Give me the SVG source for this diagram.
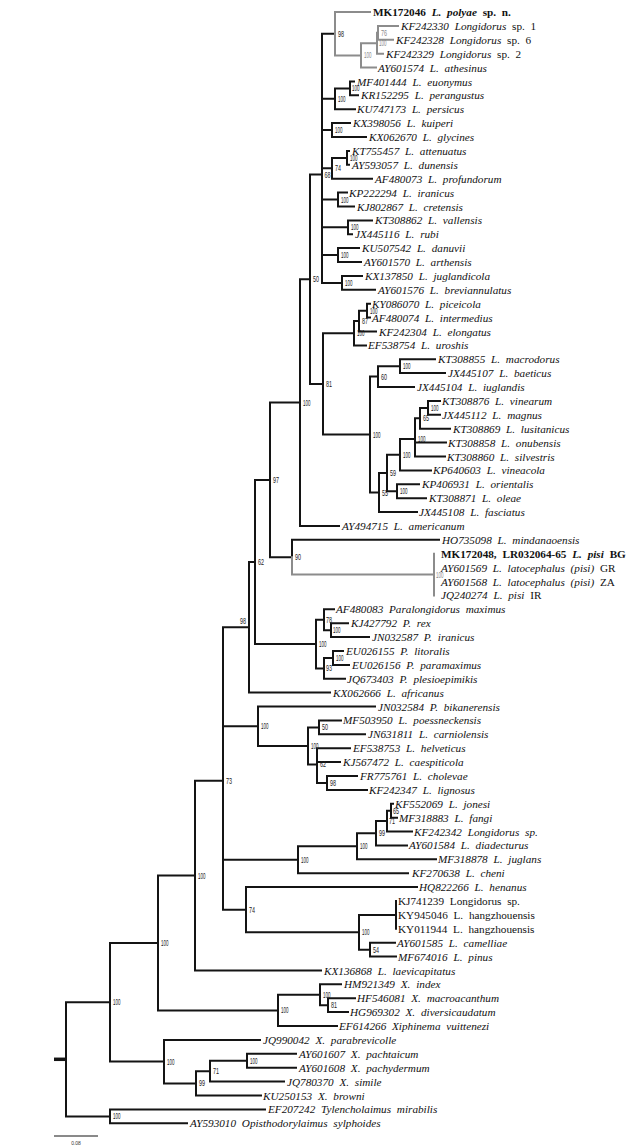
<svg xmlns="http://www.w3.org/2000/svg" width="638" height="1147" viewBox="0 0 638 1147">
<style>
.lf{font-family:"Liberation Serif",serif;font-size:11.2px;font-style:italic;word-spacing:3px;fill:#111}
.r{font-style:normal}
.b{font-weight:bold}
.bs{font-family:"Liberation Sans",sans-serif;font-size:8.5px;fill:#222}
.g{fill:#8a8a8a}
.ln{fill:none;stroke:#141414;stroke-width:2;stroke-linecap:square}
.lg{fill:none;stroke:#8c8c8c;stroke-width:2;stroke-linecap:square}
</style>
<rect width="638" height="1147" fill="#fff"/>
<g id="connectors">
<path class="ln" d="M323,33.7H335 M322,33.7V282.9
M322,98.8H335 M335,88.4V109.2 M335,88.4H350 M350,81.5V95.3 M350,81.5H354 M350,95.3H358 M335,109.2H355
M322,130H332 M332,123.1V137 M332,123.1H350 M332,137H366
M322,168.3H332 M332,157.9V178.7 M332,157.9H347 M347,150.9V164.8 M347,150.9H349 M347,164.8H349 M332,178.7H372
M322,199.6H338 M338,192.6V206.5 M338,192.6H347 M338,206.5H354
M322,227.3H348 M348,220.4V234.2 M348,220.4H372 M348,234.2H352
M322,255H338 M338,248.1V262 M338,248.1H359 M338,262H361
M322,282.9H342 M342,275.9V289.8 M342,275.9H362 M342,289.8H375
M310,174.5H322 M310,174.5V383.9 M300,279.2H310 M310,383.9H323
M323,333.3V434.5 M323,333.3H354 M323,434.5H370
M354,321.1V345.4 M354,321.1H359 M354,345.4H366
M359,310.7V331.5 M359,310.7H367 M359,331.5H376
M367,303.7V317.6 M367,303.7H370 M367,317.6H370
M370,376.6V492.5 M370,376.6H378 M370,492.5H379
M378,366.2V387 M378,366.2H400 M378,387H414
M400,359.3V373.1 M400,359.3H435 M400,373.1H445
M379,473V512.1 M379,473H387 M379,512.1H417
M387,454.8V491.2 M387,454.8H400 M387,491.2H397
M400,439.1V470.4 M400,439.1H415 M400,470.4H431
M415,418.3V456.5 M415,418.3H420 M415,442.6H446 M415,456.5H445
M420,407.9V428.7 M420,407.9H428 M420,428.7H450
M428,400.9V414.8 M428,400.9H440 M428,414.8H440
M397,484.3V498.2 M397,484.3H419 M397,498.2H426
M300,279.2V525.9 M300,525.9H339 M270,402.6H300
M270,402.6V557.2 M255,479.9H270 M270,557.2H292
M292,539.8V557.2 M292,539.8H439
M255,479.9V644 M249,562H255 M255,644H316
M316,619.7V668.4 M316,619.7H324 M316,668.4H324
M324,609.3V630.2 M324,609.3H334 M324,630.2H331
M331,623.2V637.1 M331,623.2H348 M331,637.1H369
M324,658V678.8 M324,658H333 M324,678.8H345
M333,651V664.9 M333,651H343 M333,664.9H349
M249,562V692.6 M249,692.6H330 M223,627.3H249
M223,627.3V909.7 M195,780.7H223 M223,726.2H258 M223,859.8H298 M223,909.7H246
M258,706.5V745.9 M258,706.5H375 M258,745.9H308
M308,727.4V764.4 M308,727.4H319 M308,764.4H317
M319,720.4V734.3 M319,720.4H341 M319,734.3H365
M317,748.2V783 M317,748.2H350 M317,762.1H340 M317,783H327
M327,776V789.9 M327,776H357 M327,789.9H367
M298,846.3V873.2 M298,846.3H357 M298,873.2H408
M357,833.3V859.3 M357,833.3H376 M357,859.3H436
M376,821.1V845.4 M376,821.1H387 M376,845.4H407
M387,810.8V831.5 M387,810.8H391 M387,831.5H412
M391,803.8V817.7 M391,803.8H393 M391,817.7H397
M246,887.1V932.3 M246,887.1H417 M246,932.3H359
M359,914.9V949.7 M359,914.9H396 M359,949.7H370
M396,901V928.8
M370,942.7V956.6 M370,942.7H395 M370,956.6H396
M195,780.7V970.5 M195,970.5H321 M158,875.6H195
M278,994.7V1026 M278,994.7H320 M278,1026H337
M320,984.3V1005.2 M320,984.3H341 M320,1005.2H328
M328,998.2V1012.1 M328,998.2H355 M328,1012.1H348
M158,875.6V1010.4 M158,1010.4H278 M110,943H158
M110,943V1061.6 M110,1061.6H164 M66,1002.3H110
M164,1039.9V1083.4 M164,1039.9H260 M164,1083.4H196
M196,1071.2V1095.5 M196,1071.2H210 M196,1095.5H261
M210,1060.8V1081.6 M210,1060.8H247 M210,1081.6H284
M247,1053.8V1067.7 M247,1053.8H296 M247,1067.7H296
M110,1109.4V1123.3 M110,1109.4H265 M110,1123.3H187
M66,1002.3V1116.4 M66,1116.4H110"/>
<path class="lg" d="M335,12V55.4 M335,12H370 M335,55.4H361 M361,43.3V67.6 M361,67.6H376 M361,43.3H377 M377,32.8V53.7 M377,53.7H383 M377,32.8H378 M378,25.9V39.8 M378,25.9H398 M378,39.8H393
M292,557.2V574.5 M292,574.5H434 M434,553.7V595.4"/>
<path d="M54,1059.3H66" stroke="#141414" stroke-width="3.5" fill="none"/>
<path d="M54,1136H98" stroke="#141414" stroke-width="1" fill="none"/>
<text x="76" y="1145" font-family="Liberation Sans, sans-serif" font-size="5" text-anchor="middle" fill="#333">0.08</text>
</g>
<g id="leaves">
<g id="l1"><text class="lf r b" x="373" y="16">MK172046 <tspan font-style="italic">L. polyae</tspan>  sp. n.</text></g>
<g id="l2"><text class="lf" x="401" y="29.9">KF242330 Longidorus<tspan class="r"> sp. 1</tspan></text></g>
<g id="l3"><text class="lf" x="396" y="43.8">KF242328 Longidorus<tspan class="r"> sp. 6</tspan></text></g>
<g id="l4"><text class="lf" x="386" y="57.7">KF242329 Longidorus<tspan class="r"> sp. 2</tspan></text></g>
<g id="l5"><text class="lf" x="378" y="71.6">AY601574 L. athesinus</text></g>
<g id="l6"><text class="lf" x="357" y="85.5">MF401444 L. euonymus</text></g>
<g id="l7"><text class="lf" x="361" y="99.3">KR152295 L. perangustus</text></g>
<g id="l8"><text class="lf" x="357" y="113.2">KU747173 L. persicus</text></g>
<g id="l9"><text class="lf" x="353" y="127.1">KX398056 L. kuiperi</text></g>
<g id="l10"><text class="lf" x="369" y="141">KX062670 L. glycines</text></g>
<g id="l11"><text class="lf" x="352" y="154.9">KT755457 L. attenuatus</text></g>
<g id="l12"><text class="lf" x="352" y="168.8">AY593057 L. dunensis</text></g>
<g id="l13"><text class="lf" x="375" y="182.7">AF480073 L. profundorum</text></g>
<g id="l14"><text class="lf" x="349" y="196.6">KP222294 L. iranicus</text></g>
<g id="l15"><text class="lf" x="357" y="210.5">KJ802867 L. cretensis</text></g>
<g id="l16"><text class="lf" x="375" y="224.4">KT308862 L. vallensis</text></g>
<g id="l17"><text class="lf" x="355" y="238.2">JX445116 L. rubi</text></g>
<g id="l18"><text class="lf" x="362" y="252.1">KU507542 L. danuvii</text></g>
<g id="l19"><text class="lf" x="364" y="266">AY601570 L. arthensis</text></g>
<g id="l20"><text class="lf" x="365" y="279.9">KX137850 L. juglandicola</text></g>
<g id="l21"><text class="lf" x="378" y="293.8">AY601576 L. breviannulatus</text></g>
<g id="l22"><text class="lf" x="372" y="307.7">KY086070 L. piceicola</text></g>
<g id="l23"><text class="lf" x="372" y="321.6">AF480074 L. intermedius</text></g>
<g id="l24"><text class="lf" x="379" y="335.5">KF242304 L. elongatus</text></g>
<g id="l25"><text class="lf" x="368" y="349.4">EF538754 L. uroshis</text></g>
<g id="l26"><text class="lf" x="438" y="363.3">KT308855 L. macrodorus</text></g>
<g id="l27"><text class="lf" x="448" y="377.1">JX445107 L. baeticus</text></g>
<g id="l28"><text class="lf" x="417" y="391">JX445104 L. iuglandis</text></g>
<g id="l29"><text class="lf" x="442" y="404.9">KT308876 L. vinearum</text></g>
<g id="l30"><text class="lf" x="442" y="418.8">JX445112 L. magnus</text></g>
<g id="l31"><text class="lf" x="453" y="432.7">KT308869 L. lusitanicus</text></g>
<g id="l32"><text class="lf" x="448" y="446.6">KT308858 L. onubensis</text></g>
<g id="l33"><text class="lf" x="447" y="460.5">KT308860 L. silvestris</text></g>
<g id="l34"><text class="lf" x="433" y="474.4">KP640603 L. vineacola</text></g>
<g id="l35"><text class="lf" x="422" y="488.3">KP406931 L. orientalis</text></g>
<g id="l36"><text class="lf" x="429" y="502.2">KT308871 L. oleae</text></g>
<g id="l37"><text class="lf" x="419" y="516.1">JX445108 L. fasciatus</text></g>
<g id="l38"><text class="lf" x="342" y="529.9">AY494715 L. americanum</text></g>
<g id="l39"><text class="lf" x="442" y="543.8">HO735098 L. mindanaoensis</text></g>
<g id="l40"><text class="lf r b" x="441" y="557.7">MK172048, LR032064-65 <tspan font-style="italic">L. pisi</tspan> BG</text></g>
<g id="l41"><text class="lf" x="441" y="571.6">AY601569 L. latocephalus (pisi)<tspan class="r"> GR</tspan></text></g>
<g id="l42"><text class="lf" x="441" y="585.5">AY601568 L. latocephalus (pisi)<tspan class="r"> ZA</tspan></text></g>
<g id="l43"><text class="lf" x="441" y="599.4">JQ240274 L. pisi<tspan class="r"> IR</tspan></text></g>
<g id="l44"><text class="lf" x="336" y="613.3">AF480083 Paralongidorus maximus</text></g>
<g id="l45"><text class="lf" x="351" y="627.2">KJ427792 P. rex</text></g>
<g id="l46"><text class="lf" x="372" y="641.1">JN032587 P. iranicus</text></g>
<g id="l47"><text class="lf" x="346" y="655">EU026155 P. litoralis</text></g>
<g id="l48"><text class="lf" x="352" y="668.9">EU026156 P. paramaximus</text></g>
<g id="l49"><text class="lf" x="347" y="682.8">JQ673403 P. plesioepimikis</text></g>
<g id="l50"><text class="lf" x="333" y="696.6">KX062666 L. africanus</text></g>
<g id="l51"><text class="lf" x="378" y="710.5">JN032584 P. bikanerensis</text></g>
<g id="l52"><text class="lf" x="343" y="724.4">MF503950 L. poessneckensis</text></g>
<g id="l53"><text class="lf" x="368" y="738.3">JN631811 L. carniolensis</text></g>
<g id="l54"><text class="lf" x="353" y="752.2">EF538753 L. helveticus</text></g>
<g id="l55"><text class="lf" x="343" y="766.1">KJ567472 L. caespiticola</text></g>
<g id="l56"><text class="lf" x="360" y="780">FR775761 L. cholevae</text></g>
<g id="l57"><text class="lf" x="369" y="793.9">KF242347 L. lignosus</text></g>
<g id="l58"><text class="lf" x="395" y="807.8">KF552069 L. jonesi</text></g>
<g id="l59"><text class="lf" x="399" y="821.7">MF318883 L. fangi</text></g>
<g id="l60"><text class="lf" x="414" y="835.5">KF242342 Longidorus sp.</text></g>
<g id="l61"><text class="lf" x="409" y="849.4">AY601584 L. diadecturus</text></g>
<g id="l62"><text class="lf" x="438" y="863.3">MF318878 L. juglans</text></g>
<g id="l63"><text class="lf" x="412" y="877.2">KF270638 L. cheni</text></g>
<g id="l64"><text class="lf" x="419" y="891.1">HQ822266 L. henanus</text></g>
<g id="l65"><text class="lf r" x="398" y="905">KJ741239 Longidorus sp.</text></g>
<g id="l66"><text class="lf r" x="398" y="918.9">KY945046 L. hangzhouensis</text></g>
<g id="l67"><text class="lf r" x="398" y="932.8">KY011944 L. hangzhouensis</text></g>
<g id="l68"><text class="lf" x="397" y="946.7">AY601585 L. camelliae</text></g>
<g id="l69"><text class="lf" x="398" y="960.6">MF674016 L. pinus</text></g>
<g id="l70"><text class="lf" x="324" y="974.5">KX136868 L. laevicapitatus</text></g>
<g id="l71"><text class="lf" x="344" y="988.3">HM921349 X. index</text></g>
<g id="l72"><text class="lf" x="357" y="1002.2">HF546081 X. macroacanthum</text></g>
<g id="l73"><text class="lf" x="350" y="1016.1">HG969302 X. diversicaudatum</text></g>
<g id="l74"><text class="lf" x="339" y="1030">EF614266 Xiphinema vuittenezi</text></g>
<g id="l75"><text class="lf" x="263" y="1043.9">JQ990042 X. parabrevicolle</text></g>
<g id="l76"><text class="lf" x="299" y="1057.8">AY601607 X. pachtaicum</text></g>
<g id="l77"><text class="lf" x="299" y="1071.7">AY601608 X. pachydermum</text></g>
<g id="l78"><text class="lf" x="287" y="1085.6">JQ780370 X. simile</text></g>
<g id="l79"><text class="lf" x="263" y="1099.5">KU250153 X. browni</text></g>
<g id="l80"><text class="lf" x="268" y="1113.4">EF207242 Tylencholaimus mirabilis</text></g>
<g id="l81"><text class="lf" x="190" y="1127.3">AY593010 Opisthodorylaimus sylphoides</text></g>
</g>
<g id="internal-nodes">
<g id="n1"><text class="bs" x="338" y="36.7" textLength="6" lengthAdjust="spacingAndGlyphs">98</text></g>
<g id="n2"><text class="bs g" x="364" y="58.4" textLength="7.5" lengthAdjust="spacingAndGlyphs">100</text></g>
<g id="n3"><text class="bs g" x="379" y="46.3" textLength="7.5" lengthAdjust="spacingAndGlyphs">100</text></g>
<g id="n4"><text class="bs g" x="381" y="35.8" textLength="6" lengthAdjust="spacingAndGlyphs">76</text></g>
<g id="n5"><text class="bs" x="338" y="101.8" textLength="7.5" lengthAdjust="spacingAndGlyphs">100</text></g>
<g id="n6"><text class="bs" x="352" y="91.4" textLength="7.5" lengthAdjust="spacingAndGlyphs">100</text></g>
<g id="n7"><text class="bs" x="335" y="133" textLength="7.5" lengthAdjust="spacingAndGlyphs">100</text></g>
<g id="n8"><text class="bs" x="350" y="160.9" textLength="7.5" lengthAdjust="spacingAndGlyphs">100</text></g>
<g id="n9"><text class="bs" x="335" y="171.3" textLength="6" lengthAdjust="spacingAndGlyphs">74</text></g>
<g id="n10"><text class="bs" x="324.5" y="177.5" textLength="6" lengthAdjust="spacingAndGlyphs">68</text></g>
<g id="n11"><text class="bs" x="341" y="202.6" textLength="7.5" lengthAdjust="spacingAndGlyphs">100</text></g>
<g id="n12"><text class="bs" x="351" y="230.3" textLength="7.5" lengthAdjust="spacingAndGlyphs">100</text></g>
<g id="n13"><text class="bs" x="341" y="258" textLength="7.5" lengthAdjust="spacingAndGlyphs">100</text></g>
<g id="n14"><text class="bs" x="345" y="285.9" textLength="7.5" lengthAdjust="spacingAndGlyphs">100</text></g>
<g id="n15"><text class="bs" x="313" y="282.2" textLength="6" lengthAdjust="spacingAndGlyphs">50</text></g>
<g id="n16"><text class="bs" x="370" y="313.7" textLength="7.5" lengthAdjust="spacingAndGlyphs">100</text></g>
<g id="n17"><text class="bs" x="362" y="324.1" textLength="6" lengthAdjust="spacingAndGlyphs">87</text></g>
<g id="n18"><text class="bs" x="357" y="336.3" textLength="7.5" lengthAdjust="spacingAndGlyphs">100</text></g>
<g id="n19"><text class="bs" x="326" y="386.9" textLength="6" lengthAdjust="spacingAndGlyphs">81</text></g>
<g id="n20"><text class="bs" x="403" y="369.2" textLength="7.5" lengthAdjust="spacingAndGlyphs">100</text></g>
<g id="n21"><text class="bs" x="381" y="379.6" textLength="6" lengthAdjust="spacingAndGlyphs">60</text></g>
<g id="n22"><text class="bs" x="373" y="437.5" textLength="7.5" lengthAdjust="spacingAndGlyphs">100</text></g>
<g id="n23"><text class="bs" x="431" y="410.9" textLength="7.5" lengthAdjust="spacingAndGlyphs">100</text></g>
<g id="n24"><text class="bs" x="423" y="421.3" textLength="6" lengthAdjust="spacingAndGlyphs">65</text></g>
<g id="n25"><text class="bs" x="418" y="442.1" textLength="7.5" lengthAdjust="spacingAndGlyphs">100</text></g>
<g id="n26"><text class="bs" x="403" y="457.8" textLength="7.5" lengthAdjust="spacingAndGlyphs">100</text></g>
<g id="n27"><text class="bs" x="390" y="476" textLength="6" lengthAdjust="spacingAndGlyphs">59</text></g>
<g id="n28"><text class="bs" x="400" y="494.2" textLength="7.5" lengthAdjust="spacingAndGlyphs">100</text></g>
<g id="n29"><text class="bs" x="382" y="495.5" textLength="6" lengthAdjust="spacingAndGlyphs">55</text></g>
<g id="n30"><text class="bs" x="303" y="405.6" textLength="7.5" lengthAdjust="spacingAndGlyphs">100</text></g>
<g id="n31"><text class="bs" x="273" y="482.9" textLength="6" lengthAdjust="spacingAndGlyphs">97</text></g>
<g id="n32"><text class="bs" x="295" y="560.2" textLength="6" lengthAdjust="spacingAndGlyphs">90</text></g>
<g id="n33"><text class="bs g" x="436" y="577.5" textLength="7.5" lengthAdjust="spacingAndGlyphs">100</text></g>
<g id="n34"><text class="bs" x="258" y="565" textLength="6" lengthAdjust="spacingAndGlyphs">62</text></g>
<g id="n35"><text class="bs" x="326" y="622.7" textLength="6" lengthAdjust="spacingAndGlyphs">78</text></g>
<g id="n36"><text class="bs" x="333" y="633.2" textLength="7.5" lengthAdjust="spacingAndGlyphs">100</text></g>
<g id="n37"><text class="bs" x="319" y="647" textLength="7.5" lengthAdjust="spacingAndGlyphs">100</text></g>
<g id="n38"><text class="bs" x="336" y="661" textLength="7.5" lengthAdjust="spacingAndGlyphs">100</text></g>
<g id="n39"><text class="bs" x="326" y="671.4" textLength="6" lengthAdjust="spacingAndGlyphs">93</text></g>
<g id="n40"><text class="bs" x="240" y="624" textLength="6" lengthAdjust="spacingAndGlyphs">98</text></g>
<g id="n41"><text class="bs" x="261" y="729.2" textLength="7.5" lengthAdjust="spacingAndGlyphs">100</text></g>
<g id="n42"><text class="bs" x="322" y="730.4" textLength="6" lengthAdjust="spacingAndGlyphs">50</text></g>
<g id="n43"><text class="bs" x="311" y="748.9" textLength="7.5" lengthAdjust="spacingAndGlyphs">100</text></g>
<g id="n44"><text class="bs" x="320" y="767.4" textLength="6" lengthAdjust="spacingAndGlyphs">62</text></g>
<g id="n45"><text class="bs" x="330" y="786" textLength="6" lengthAdjust="spacingAndGlyphs">98</text></g>
<g id="n46"><text class="bs" x="226" y="783.7" textLength="6" lengthAdjust="spacingAndGlyphs">73</text></g>
<g id="n47"><text class="bs" x="393" y="813.8" textLength="6" lengthAdjust="spacingAndGlyphs">65</text></g>
<g id="n48"><text class="bs" x="389" y="824.1" textLength="6" lengthAdjust="spacingAndGlyphs">71</text></g>
<g id="n49"><text class="bs" x="379" y="836.3" textLength="6" lengthAdjust="spacingAndGlyphs">99</text></g>
<g id="n50"><text class="bs" x="360" y="849.3" textLength="7.5" lengthAdjust="spacingAndGlyphs">100</text></g>
<g id="n51"><text class="bs" x="301" y="862.8" textLength="7.5" lengthAdjust="spacingAndGlyphs">100</text></g>
<g id="n52"><text class="bs" x="249" y="912.7" textLength="6" lengthAdjust="spacingAndGlyphs">74</text></g>
<g id="n53"><text class="bs" x="362" y="935.3" textLength="7.5" lengthAdjust="spacingAndGlyphs">100</text></g>
<g id="n54"><text class="bs" x="373" y="952.7" textLength="6" lengthAdjust="spacingAndGlyphs">54</text></g>
<g id="n55"><text class="bs" x="198" y="878.6" textLength="7.5" lengthAdjust="spacingAndGlyphs">100</text></g>
<g id="n56"><text class="bs" x="161" y="946" textLength="7.5" lengthAdjust="spacingAndGlyphs">100</text></g>
<g id="n57"><text class="bs" x="331" y="1008.2" textLength="6" lengthAdjust="spacingAndGlyphs">81</text></g>
<g id="n58"><text class="bs" x="323" y="997.7" textLength="7.5" lengthAdjust="spacingAndGlyphs">100</text></g>
<g id="n59"><text class="bs" x="281" y="1013.4" textLength="7.5" lengthAdjust="spacingAndGlyphs">100</text></g>
<g id="n60"><text class="bs" x="113" y="1005.3" textLength="7.5" lengthAdjust="spacingAndGlyphs">100</text></g>
<g id="n61"><text class="bs" x="250" y="1063.8" textLength="7.5" lengthAdjust="spacingAndGlyphs">100</text></g>
<g id="n62"><text class="bs" x="213" y="1074.2" textLength="6" lengthAdjust="spacingAndGlyphs">71</text></g>
<g id="n63"><text class="bs" x="199" y="1086.4" textLength="6" lengthAdjust="spacingAndGlyphs">99</text></g>
<g id="n64"><text class="bs" x="167" y="1064.6" textLength="7.5" lengthAdjust="spacingAndGlyphs">100</text></g>
<g id="n65"><text class="bs" x="113" y="1119.4" textLength="7.5" lengthAdjust="spacingAndGlyphs">100</text></g>
</g>
</svg>
